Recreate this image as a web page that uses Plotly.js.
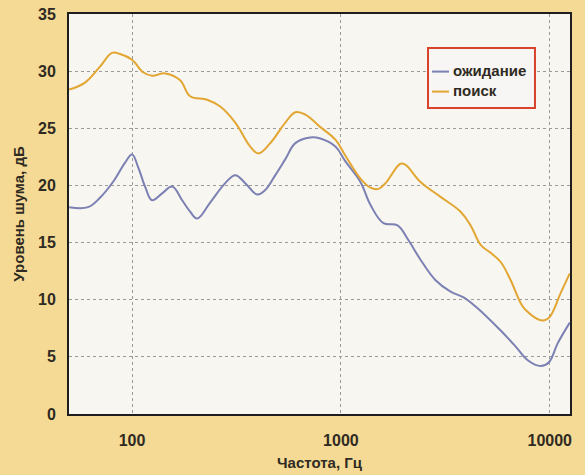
<!DOCTYPE html>
<html>
<head>
<meta charset="utf-8">
<script src="https://cdn.plot.ly/plotly-3.0.1.min.js"></script>
<style>
  html, body { margin: 0; padding: 0; background: #f5da95; }
  #chart { width: 585px; height: 475px; }
</style>
</head>
<body>
<div id="chart"></div>
<script>
// Noise level spectra, Hz vs dB
const freqWait = [50, 61.5, 70, 81, 92.6, 100, 106.9, 115.4, 124.7, 139.3, 155.5, 173.7, 189.7, 205, 236.6, 279.3, 311.9, 348.3, 397.8, 434.4, 485.2, 541.9, 605, 714, 797.4, 941, 1051, 1240, 1385, 1599, 1866, 2107, 2406, 2840, 3351, 3868, 4417, 5821, 6869, 7843, 9055, 9890, 10925, 12474];
const levelWait = [18.1, 18.1, 18.9, 20.3, 22.0, 22.7, 21.6, 19.9, 18.7, 19.3, 19.9, 18.7, 17.7, 17.1, 18.5, 20.2, 20.9, 20.2, 19.2, 19.6, 20.9, 22.3, 23.7, 24.2, 24.1, 23.4, 22.1, 20.3, 18.3, 16.7, 16.5, 15.2, 13.5, 11.7, 10.7, 10.2, 9.4, 7.3, 5.9, 4.7, 4.2, 4.5, 6.2, 8.0];

const freqSearch = [50, 59.5, 70.2, 80.2, 87.6, 100, 112.9, 124.7, 143.9, 169.9, 189.7, 228.9, 264.3, 311.9, 368.1, 402.2, 459.1, 541.9, 605, 675.5, 797.4, 941, 1051, 1240, 1385, 1513, 1635, 1929, 2039, 2406, 3001, 3742, 4180, 4668, 5212, 5821, 6501, 7261, 7672, 9055, 9890, 11290, 12474];
const levelSearch = [28.4, 29.0, 30.4, 31.6, 31.5, 31.0, 29.9, 29.6, 29.8, 29.2, 27.8, 27.5, 26.9, 25.5, 23.4, 22.8, 23.7, 25.5, 26.4, 26.2, 25.1, 24.0, 22.6, 20.6, 19.8, 19.7, 20.2, 21.9, 21.8, 20.3, 19.0, 17.7, 16.5, 14.8, 14.1, 13.3, 11.7, 9.7, 9.1, 8.2, 8.4, 10.6, 12.3];

const seriesNames = ['ожидание', 'поиск'];
const seriesColors = ['#7b81b3', '#e2a632'];
const xTicks = [100, 1000, 10000];
const xTickText = ['100', '1000', '10000'];
const yTicks = [0, 5, 10, 15, 20, 25, 30, 35];

const fontFamily = 'Liberation Sans Narrow, Arial Narrow, Liberation Sans, Arial, sans-serif';
const inkColor = '#2f2a22';
const labelFont = { family: fontFamily, size: 16, color: inkColor, weight: 'bold' };
const titleFont = { family: fontFamily, size: 15, color: inkColor, weight: 'bold' };

const traces = [
  {
    x: freqWait, y: levelWait, name: seriesNames[0], type: 'scatter', mode: 'lines',
    line: { color: seriesColors[0], width: 2, shape: 'spline', smoothing: 1.1 }
  },
  {
    x: freqSearch, y: levelSearch, name: seriesNames[1], type: 'scatter', mode: 'lines',
    line: { color: seriesColors[1], width: 2, shape: 'spline', smoothing: 1.1 }
  }
];

// Boxed key inside the plot area: short line samples beside bold labels
const keyRows = [0.856, 0.806];
const keyShapes = [
  { type: 'rect', xref: 'paper', yref: 'paper', x0: 0.7166, x1: 0.9301, y0: 0.765, y1: 0.915,
    fillcolor: '#f7f6f4', line: { color: '#d8432b', width: 2 }, layer: 'above' }
].concat(seriesNames.map((n, i) => ({
  type: 'line', xref: 'paper', yref: 'paper', x0: 0.7246, x1: 0.7585, y0: keyRows[i], y1: keyRows[i],
  line: { color: seriesColors[i], width: 2 }, layer: 'above'
})));
const keyLabels = seriesNames.map((n, i) => ({
  xref: 'paper', yref: 'paper', x: 0.7625, y: keyRows[i] + 0.003, xanchor: 'left', yanchor: 'middle',
  text: n, showarrow: false, font: { family: fontFamily, size: 15, color: inkColor, weight: 'bold' }
}));

const layout = {
  width: 585, height: 475,
  margin: { l: 69, r: 15, t: 14, b: 61 },
  paper_bgcolor: '#f5da95',
  plot_bgcolor: '#f8f6f1',
  showlegend: false,
  shapes: keyShapes,
  annotations: keyLabels,
  xaxis: {
    type: 'log', range: [1.698, 4.097],
    tickvals: xTicks, ticktext: xTickText,
    showgrid: true, gridcolor: '#9a9a9a', griddash: 'dot', gridwidth: 1,
    showline: true, linecolor: '#1e1e1e', linewidth: 2, mirror: true,
    ticks: 'outside', ticklen: 11, tickcolor: 'rgba(0,0,0,0)',
    tickfont: labelFont, zeroline: false,
    title: { text: 'Частота, Гц', font: titleFont, standoff: 9 }
  },
  yaxis: {
    range: [0, 35], tickvals: yTicks,
    showgrid: true, gridcolor: '#9a9a9a', griddash: 'dot', gridwidth: 1,
    showline: true, linecolor: '#1e1e1e', linewidth: 2, mirror: true,
    ticks: 'outside', ticklen: 8, tickcolor: 'rgba(0,0,0,0)',
    tickfont: labelFont, zeroline: false,
    title: { text: 'Уровень шума, дБ', font: titleFont, standoff: 10 }
  }
};

Plotly.newPlot('chart', traces, layout, { displayModeBar: false, staticPlot: true });
</script>
</body>
</html>
